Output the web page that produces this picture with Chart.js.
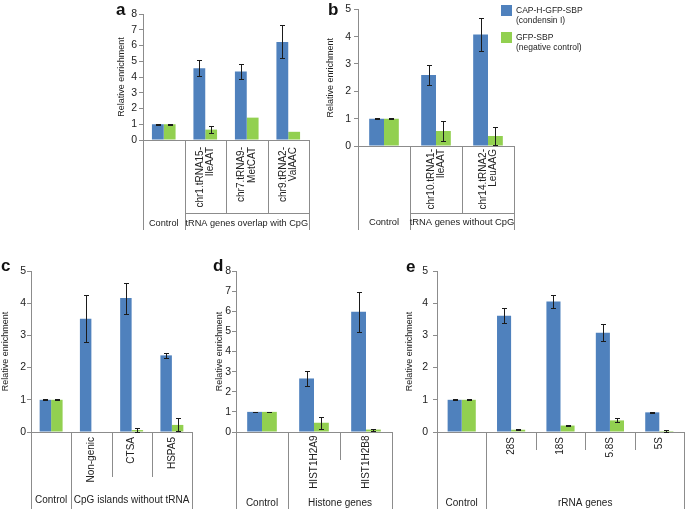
<!DOCTYPE html>
<html>
<head>
<meta charset="utf-8">
<script src="https://cdn.jsdelivr.net/npm/chart.js@4.4.1/dist/chart.umd.min.js"></script>
<style>
  html, body { margin: 0; padding: 0; background: #fff; }
  body { width: 685px; height: 509px; position: relative; overflow: hidden; font-family: "Liberation Sans", Arial, sans-serif; }
  canvas { position: absolute; }
  .tag { position: absolute; font-weight: bold; font-size: 17px; line-height: 17px; color: #111; }
  .key { position: absolute; font-size: 8.5px; line-height: 10px; color: #222; white-space: nowrap; }
  .sw { position: absolute; width: 11px; height: 11px; }
</style>
</head>
<body>
<canvas id="ca"></canvas>
<canvas id="cb"></canvas>
<canvas id="cc"></canvas>
<canvas id="cd"></canvas>
<canvas id="ce"></canvas>

<div class="tag" style="left:116px; top:1px">a</div>
<div class="tag" style="left:328px; top:1px">b</div>
<div class="tag" style="left:1px; top:257px">c</div>
<div class="tag" style="left:213px; top:257px">d</div>
<div class="tag" style="left:406px; top:258px">e</div>

<div class="sw" style="left:501px; top:5px; background:#4F81BD"></div>
<div class="key" style="left:516px; top:5px">CAP-H-GFP-SBP<br>(condensin I)</div>
<div class="sw" style="left:501px; top:32px; background:#92D050"></div>
<div class="key" style="left:516px; top:32px">GFP-SBP<br>(negative control)</div>

<script>
// ---- data ----
// a: tRNA genes overlap with CpG
const aLabels = ["Control", "chr1.tRNA15-IleAAT", "chr7.tRNA9-MetCAT", "chr9.tRNA2-ValAAC"];
const aSub = [[], ["chr1.tRNA15-", "IleAAT"], ["chr7.tRNA9-", "MetCAT"], ["chr9.tRNA2-", "ValAAC"]];
const aCondensin = [1.0, 4.55, 4.35, 6.23];
const aCondensinErr = [0.02, 0.5, 0.45, 1.05];
const aNeg = [1.0, 0.66, 1.42, 0.52];
const aNegErr = [0.02, 0.2, 0, 0];

// b: tRNA genes without CpG
const bLabels = ["Control", "chr10.tRNA1-IleAAT", "chr14.tRNA2-LeuAAG"];
const bSub = [[], ["chr10.tRNA1-", "IleAAT"], ["chr14.tRNA2-", "LeuAAG"]];
const bCondensin = [1.0, 2.6, 4.08];
const bCondensinErr = [0.01, 0.37, 0.59];
const bNeg = [1.0, 0.55, 0.37];
const bNegErr = [0.01, 0.38, 0.33];

// c: CpG islands without tRNA
const cLabels = ["Control", "Non-genic", "CTSA", "HSPA5"];
const cSub = [[], ["Non-genic"], ["CTSA"], ["HSPA5"]];
const cCondensin = [1.0, 3.52, 4.16, 2.38];
const cCondensinErr = [0.01, 0.74, 0.48, 0.07];
const cNeg = [1.0, 0, 0.06, 0.22];
const cNegErr = [0.01, 0, 0.07, 0.2];

// d: Histone genes
const dLabels = ["Control", "HIST1H2A9", "HIST1H2B8"];
const dSub = [[], ["HIST1H2A9"], ["HIST1H2B8"]];
const dCondensin = [1.0, 2.66, 5.98];
const dCondensinErr = [0.01, 0.38, 1.0];
const dNeg = [1.0, 0.46, 0.12];
const dNegErr = [0.01, 0.29, 0.05];

// e: rRNA genes
const eLabels = ["Control", "28S", "18S", "5.8S", "5S"];
const eSub = [[], ["28S"], ["18S"], ["5.8S"], ["5S"]];
const eCondensin = [1.0, 3.61, 4.05, 3.08, 0.61];
const eCondensinErr = [0.01, 0.24, 0.21, 0.26, 0.01];
const eNeg = [1.0, 0.07, 0.2, 0.36, 0.03];
const eNegErr = [0.01, 0.02, 0.02, 0.06, 0.02];

const BLUE = "#4F81BD";
const GREEN = "#92D050";
const AXIS = "#8c8c8c";
const INK = "#222";
const FONT = '"Liberation Sans", Arial, sans-serif';

// layout of each panel: canvas box [left, top, w, h], plot area [left, right, top, bottom]
const panels = [
  { id: "a", box: [116, 0, 200, 232], area: [143, 309, 14, 140], max: 8,
    labels: aLabels, sub: aSub, group: "tRNA genes overlap with CpG",
    blue: aCondensin, blueErr: aCondensinErr, green: aNeg, greenErr: aNegErr,
    titlePad: 0.3, tickPad: 2, subPad: 7, sepEnd: 213, hline: true, boxBottom: 230, groupY: 223, groupFont: 9.2 },
  { id: "b", box: [325, 0, 200, 232], area: [358, 514, 8, 146], max: 5,
    labels: bLabels, sub: bSub, group: "tRNA genes without CpG",
    blue: bCondensin, blueErr: bCondensinErr, green: bNeg, greenErr: bNegErr,
    titlePad: 0.6, tickPad: 3, subPad: 3, sepEnd: 213, hline: true, boxBottom: 230, groupY: 222.7, groupFont: 9.4 },
  { id: "c", box: [0, 258, 200, 251], area: [31, 192, 271, 432], max: 5,
    labels: cLabels, sub: cSub, group: "CpG islands without tRNA",
    blue: cCondensin, blueErr: cCondensinErr, green: cNeg, greenErr: cNegErr,
    titlePad: 0.6, tickPad: 1, subPad: 5, sepEnd: 477, hline: false, boxBottom: 509, groupY: 500, groupFont: 10 },
  { id: "d", box: [214, 258, 185, 251], area: [236, 392, 271, 432], max: 8,
    labels: dLabels, sub: dSub, group: "Histone genes",
    blue: dCondensin, blueErr: dCondensinErr, green: dNeg, greenErr: dNegErr,
    titlePad: 0, tickPad: 1, subPad: 3.5, sepEnd: 460, hline: false, boxBottom: 509, groupY: 503, groupFont: 10 },
  { id: "e", box: [404, 258, 281, 251], area: [437, 684, 271, 432], max: 5,
    labels: eLabels, sub: eSub, group: "rRNA genes",
    blue: eCondensin, blueErr: eCondensinErr, green: eNeg, greenErr: eNegErr,
    titlePad: 0.6, tickPad: 5, subPad: 5, sepEnd: 450, hline: false, boxBottom: 509, groupY: 503, groupFont: 10 }
];

// error bars with caps, drawn on top of the bars
const errBars = {
  id: "errBars",
  afterDatasetsDraw(chart) {
    const ctx = chart.ctx, ys = chart.scales.y;
    ctx.save();
    ctx.strokeStyle = "#1b1b1b";
    ctx.lineWidth = 1;
    chart.data.datasets.forEach((ds, di) => {
      chart.getDatasetMeta(di).data.forEach((bar, i) => {
        const e = ds.err[i];
        if (!e) return;
        const v = ds.data[i];
        const x = Math.round(bar.x) + 0.5;
        const y1 = Math.round(ys.getPixelForValue(v + e)) + 0.5;
        const y2 = Math.round(ys.getPixelForValue(Math.max(0, v - e))) + 0.5;
        ctx.beginPath();
        ctx.moveTo(x, y1); ctx.lineTo(x, y2);
        ctx.moveTo(x - 2.5, y1); ctx.lineTo(x + 2.5, y1);
        ctx.moveTo(x - 2.5, y2); ctx.lineTo(x + 2.5, y2);
        ctx.stroke();
      });
    });
    ctx.restore();
  }
};

// excel style two-level category box under the x axis
function catBox(p) {
  return {
    id: "catBox",
    afterDraw(chart) {
      const ctx = chart.ctx, xs = chart.scales.x, area = chart.chartArea;
      const T = p.box[1];
      const n = p.labels.length;
      const step = xs.getPixelForValue(1) - xs.getPixelForValue(0);
      const edge = i => xs.getPixelForValue(i) - step / 2;
      const y0 = area.bottom;
      const yEnd = p.boxBottom - T;
      const ySep = p.sepEnd - T;
      ctx.save();
      ctx.strokeStyle = AXIS;
      ctx.lineWidth = 1;
      const vline = (x, yb) => {
        x = Math.round(x) + 0.5;
        ctx.beginPath(); ctx.moveTo(x, y0); ctx.lineTo(x, yb); ctx.stroke();
      };
      vline(area.left, yEnd);
      vline(edge(1), yEnd);
      vline(edge(n), yEnd);
      for (let i = 2; i < n; i++) vline(edge(i), ySep);
      if (p.hline) {
        const y = Math.round(ySep) + 0.5;
        ctx.beginPath(); ctx.moveTo(Math.round(edge(1)), y); ctx.lineTo(Math.round(edge(n)) + 1, y); ctx.stroke();
      }

      // rotated sub-category labels
      ctx.fillStyle = INK;
      ctx.font = "10px " + FONT;
      ctx.textAlign = "right";
      ctx.textBaseline = "middle";
      p.sub.forEach((lines, i) => {
        const cx = xs.getPixelForValue(i);
        lines.forEach((txt, j) => {
          const lx = cx + (j - (lines.length - 1) / 2) * 10.5;
          ctx.save();
          ctx.translate(lx, y0 + p.subPad);
          ctx.rotate(-Math.PI / 2);
          ctx.fillText(txt, 0, 0);
          ctx.restore();
        });
      });

      // group row
      ctx.font = p.groupFont + "px " + FONT;
      ctx.textAlign = "center";
      ctx.fillText(p.labels[0], xs.getPixelForValue(0), p.groupY - T);
      ctx.fillText(p.group, (edge(1) + edge(n)) / 2, p.groupY - T);
      ctx.restore();
    }
  };
}

function makePanel(p) {
  const [L, T, W, H] = p.box;
  const [left, right, top, bottom] = p.area;
  const cv = document.getElementById("c" + p.id);
  cv.width = W;
  cv.height = H;
  cv.style.left = L + "px";
  cv.style.top = T + "px";

  new Chart(cv.getContext("2d"), {
    type: "bar",
    data: {
      labels: p.labels,
      datasets: [
        { label: "CAP-H-GFP-SBP (condensin I)", data: p.blue, err: p.blueErr, backgroundColor: BLUE },
        { label: "GFP-SBP (negative control)", data: p.green, err: p.greenErr, backgroundColor: GREEN }
      ]
    },
    options: {
      responsive: false,
      animation: false,
      devicePixelRatio: 1,
      layout: { autoPadding: false, padding: { left: 0, top: top - T, right: L + W - right, bottom: 0 } },
      plugins: { legend: { display: false }, tooltip: { enabled: false } },
      datasets: { bar: { categoryPercentage: 0.57, barPercentage: 1, borderWidth: 0 } },
      scales: {
        x: {
          grid: { display: false, drawTicks: false },
          border: { color: AXIS, width: 1 },
          ticks: { display: false },
          afterFit(s) { s.height = T + H - bottom; }
        },
        y: {
          min: 0,
          max: p.max,
          ticks: { stepSize: 1, color: INK, font: { family: FONT, size: 10.5 }, padding: p.tickPad },
          grid: { drawOnChartArea: false, color: AXIS, tickLength: 4 },
          border: { color: AXIS, width: 1 },
          title: {
            display: true, text: "Relative enrichment", color: INK,
            font: { family: FONT, size: 9 }, padding: { top: p.titlePad, bottom: 0 }
          },
          afterFit(s) { s.width = left - L; }
        }
      }
    },
    plugins: [errBars, catBox(p)]
  });
}

panels.forEach(makePanel);
</script>
</body>
</html>
